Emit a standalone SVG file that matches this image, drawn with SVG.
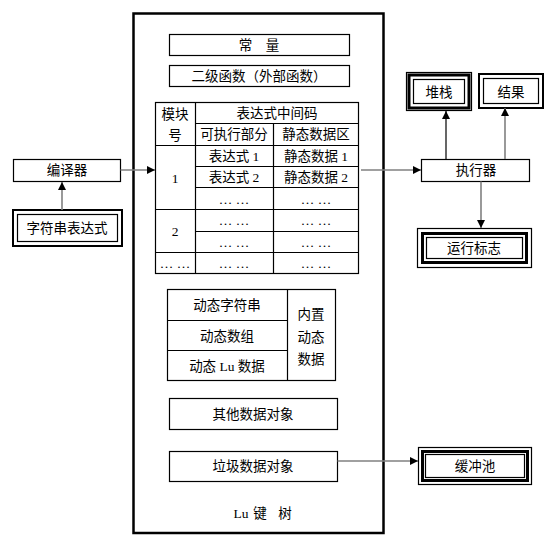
<svg xmlns="http://www.w3.org/2000/svg" width="554" height="554" viewBox="0 0 554 554">
<style>
text{font-family:"Liberation Serif","Noto Sans CJK SC",serif;font-size:13.5px;fill:#000;text-anchor:middle;dominant-baseline:central}
.b{fill:#fff;stroke:#000;stroke-width:1.2}
.n{fill:none;stroke:#000;stroke-width:1.2}
.tk{fill:none;stroke:#000;stroke-width:3}
.l{stroke:#000;stroke-width:1.2;fill:none}
.g{stroke:#808080;stroke-width:1.6;fill:none}
.k{stroke:#000;stroke-width:1.2;fill:none}
.s{font-family:"Liberation Serif","Noto Sans CJK SC",serif}
</style>
<defs>
<marker id="ah" markerUnits="userSpaceOnUse" markerWidth="8" markerHeight="8" refX="8" refY="4" orient="auto">
<path d="M0,0 L8,4 L0,8 z" fill="#000"/>
</marker>
</defs>
<rect width="554" height="554" fill="#fff"/>

<g id="lu-tree">
<rect x="133.5" y="13.5" width="250" height="519.5" fill="#fff" stroke="#000" stroke-width="2.5"/>
<text x="263" y="513"><tspan x="241">Lu</tspan><tspan x="260">键</tspan><tspan x="285">树</tspan></text>
</g>

<g id="const">
<rect class="b" x="169.5" y="34.5" width="180" height="21"/>
<text x="259" y="45">常　量</text>
</g>
<g id="func">
<rect class="b" x="169.5" y="65.5" width="180" height="21"/>
<text x="259" y="76">二级函数（外部函数）</text>
</g>

<g id="table">
<rect class="b" x="155.5" y="102.5" width="203" height="171"/>
<path class="l" d="M195.5,102.5 V273.5 M195.5,123.5 H358.5 M273.5,123.5 V273.5 M155.5,145.5 H358.5 M195.5,166.5 H358.5 M195.5,187.5 H358.5 M155.5,209.5 H358.5 M195.5,231.5 H358.5 M155.5,252.5 H358.5"/>
<text x="175" y="114">模块</text>
<text x="175" y="135">号</text>
<text x="277" y="113">表达式中间码</text>
<text x="234" y="134">可执行部分</text>
<text x="316" y="134">静态数据区</text>
<text x="234" y="156">表达式 1</text>
<text x="316" y="156">静态数据 1</text>
<text x="234" y="177">表达式 2</text>
<text x="316" y="177">静态数据 2</text>
<text class="s" x="175" y="178">1</text>
<text class="s" x="175" y="231">2</text>
<text class="s" x="234" y="199">… …</text>
<text class="s" x="316" y="199">… …</text>
<text class="s" x="234" y="220">… …</text>
<text class="s" x="316" y="220">… …</text>
<text class="s" x="234" y="242">… …</text>
<text class="s" x="316" y="242">… …</text>
<text class="s" x="175" y="263">… …</text>
<text class="s" x="234" y="263">… …</text>
<text class="s" x="316" y="263">… …</text>
</g>

<g id="dynamic">
<rect class="b" x="167.5" y="289.5" width="168" height="91"/>
<path class="l" d="M287.5,289.5 V380.5 M167.5,320.5 H287.5 M167.5,350.5 H287.5"/>
<text x="227" y="305">动态字符串</text>
<text x="227" y="336">动态数组</text>
<text x="227" y="366">动态 Lu 数据</text>
<text x="311" y="314">内置</text>
<text x="311" y="337">动态</text>
<text x="311" y="359">数据</text>
</g>

<g id="other">
<rect class="b" x="169.5" y="398.5" width="168" height="31"/>
<text x="253" y="414">其他数据对象</text>
</g>
<g id="garbage">
<rect class="b" x="169.5" y="451.5" width="168" height="30"/>
<text x="253" y="466">垃圾数据对象</text>
</g>

<g id="compiler">
<rect class="b" x="13.5" y="159.5" width="107" height="22"/>
<text x="67" y="170">编译器</text>
</g>
<g id="strexpr">
<rect x="13" y="210" width="109" height="36" fill="#fff" stroke="#000" stroke-width="2"/>
<rect class="n" x="17.5" y="214.5" width="100" height="27"/>
<text x="67" y="228">字符串表达式</text>
</g>

<g id="executor">
<rect class="b" x="421.5" y="159.5" width="108" height="22"/>
<text x="476" y="170">执行器</text>
</g>
<g id="stack">
<rect class="b" x="406.5" y="72.5" width="65" height="38"/>
<rect class="tk" x="409" y="75" width="60" height="33"/>
<rect class="n" x="413.5" y="79.5" width="51" height="24"/>
<text x="439" y="92">堆栈</text>
</g>
<g id="result">
<rect x="479" y="74" width="64" height="34" fill="#fff" stroke="#000" stroke-width="2"/>
<rect class="n" x="483.5" y="78.5" width="55" height="25"/>
<text x="511" y="92">结果</text>
</g>
<g id="runflag">
<rect class="b" x="417.5" y="228.5" width="114" height="39"/>
<rect class="tk" x="422.5" y="233.5" width="104" height="29"/>
<rect class="n" x="426.5" y="237.5" width="96" height="21"/>
<text x="474" y="248">运行标志</text>
</g>
<g id="buffer">
<rect class="b" x="418.5" y="447.5" width="113" height="37"/>
<rect class="tk" x="422.5" y="451.5" width="105" height="29"/>
<rect class="n" x="425.5" y="454.5" width="99" height="23"/>
<text x="475" y="466">缓冲池</text>
</g>

<g id="connectors">
<line class="g" x1="62" y1="210" x2="62" y2="182" marker-end="url(#ah)"/>
<line class="g" x1="120.5" y1="170" x2="155" y2="170" marker-end="url(#ah)"/>
<line class="g" x1="361" y1="170" x2="421" y2="170" marker-end="url(#ah)"/>
<line class="k" x1="446" y1="159" x2="446" y2="111" marker-end="url(#ah)"/>
<line class="g" x1="505" y1="159" x2="505" y2="108" marker-end="url(#ah)"/>
<line class="g" x1="481" y1="181.5" x2="481" y2="228" marker-end="url(#ah)"/>
<line class="g" x1="337.5" y1="461" x2="418" y2="461" marker-end="url(#ah)"/>
</g>
</svg>
